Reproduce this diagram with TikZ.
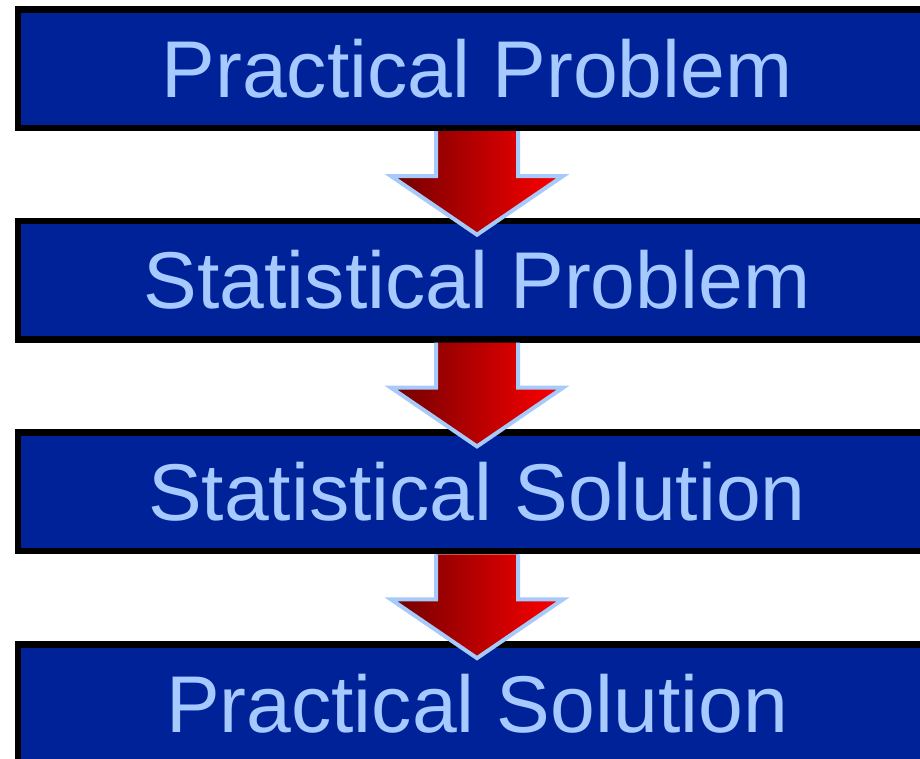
\documentclass[tikz,border=0pt]{standalone}
\usepackage{fontspec}
\setmainfont{Liberation Sans}
\usetikzlibrary{positioning,calc}
\definecolor{boxblue}{RGB}{0,34,153}
\definecolor{textblue}{RGB}{166,202,255}
\definecolor{arrowdark}{RGB}{112,0,0}
\definecolor{arrowmid}{RGB}{212,0,0}
\definecolor{arrowred}{RGB}{255,0,0}
\definecolor{arrowrim}{RGB}{166,202,250}

\begin{document}
\begin{tikzpicture}[x=1pt,y=-1pt,
    stage/.style={draw=black, fill=boxblue, line width=6.5pt, text=textblue,
        minimum width=917.7pt, minimum height=118.5pt, inner sep=0pt,
        font=\fontsize{80.5}{96}\selectfont},
    node distance=86.7pt]
    \useasboundingbox (0,0) rectangle (920,758);
    \clip (0,0) rectangle (920,758);

    % Stages
    \node[stage] (pp) at (477,68.5) {Practical Problem};
    \node[stage, below=of pp] (sp) {Statistical Problem};
    \node[stage, below=of sp] (ss) {Statistical Solution};
    \node[stage, below=of ss] (ps) {Practical Solution};

    % Block arrows between stages
    \foreach \a/\b in {pp/sp, sp/ss, ss/ps}{
        \path[left color=arrowdark, middle color=arrowmid, right color=arrowred,
              draw=arrowrim, line width=4pt]
            ($(\a.south)+(-41,0)$) -- ++(0,45) -- ++(-45,0) -- ($(\b.north)+(0,17)$)
            -- ($(\a.south)+(86,45)$) -- ++(-45,0) -- ++(0,-45);
    }
\end{tikzpicture}
\end{document}
